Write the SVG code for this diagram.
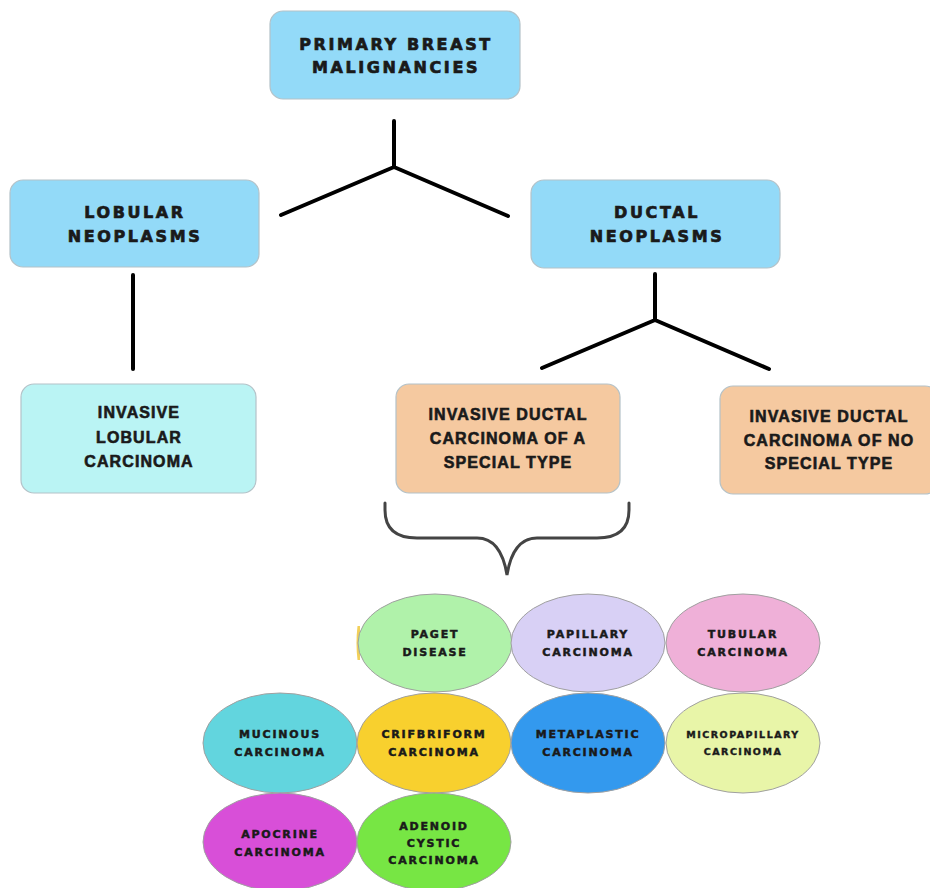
<svg xmlns="http://www.w3.org/2000/svg" width="930" height="888" viewBox="0 0 930 888">
<style>
.box{stroke:#b4c2c8;stroke-width:1.2}
.blue{fill:#93DAF8}
.cyan{fill:#BAF4F4}
.orange{fill:#F5C9A0}
.t1{font-family:"DejaVu Sans",sans-serif;font-weight:bold;font-size:16px;letter-spacing:2.6px;fill:#1a1a1a;stroke:#1a1a1a;stroke-width:0.7px;text-anchor:middle}
.t2{font-family:"Liberation Sans",Arial,sans-serif;font-weight:bold;font-size:16px;letter-spacing:1.1px;fill:#1a1a1a;stroke:#1a1a1a;stroke-width:0.6px;text-anchor:middle}
.t3{font-family:"DejaVu Sans",sans-serif;font-weight:bold;font-size:11px;letter-spacing:1.8px;fill:#1a1a1a;stroke:#1a1a1a;stroke-width:0.5px;text-anchor:middle}
.t4{font-family:"DejaVu Sans",sans-serif;font-weight:bold;font-size:9.5px;letter-spacing:1.5px;fill:#1a1a1a;stroke:#1a1a1a;stroke-width:0.4px;text-anchor:middle}
.el{stroke:#a0a0a0;stroke-width:1}
.conn{stroke:#000;stroke-width:4;fill:none;stroke-linecap:round;stroke-linejoin:round}
.brace{stroke:#444;stroke-width:3;fill:none;stroke-linecap:round}
</style>
<rect width="930" height="888" fill="#fff"/>
<g id="connectors">
<path class="conn" d="M394 121 V167 M281 215 L394 167 L508 216"/>
<path class="conn" d="M133 275 V369"/>
<path class="conn" d="M655 274 V320 M542 368 L655 320 L769 369"/>
<path class="brace" d="M385 503 V510 Q385 538 417 538 H477 Q501 538 507 575 Q513 538 537 538 H597 Q629 538 629 510 V503"/>
</g>
<g id="primary">
<rect class="box blue" x="270" y="11" width="250" height="88" rx="13"/>
<text class="t1" x="396" y="50">PRIMARY BREAST</text>
<text class="t1" x="396" y="73">MALIGNANCIES</text>
</g>
<g id="lobular">
<rect class="box blue" x="10" y="180" width="249" height="87" rx="13"/>
<text class="t1" x="135" y="218">LOBULAR</text>
<text class="t1" x="135" y="242">NEOPLASMS</text>
</g>
<g id="ductal">
<rect class="box blue" x="531" y="180" width="249" height="88" rx="13"/>
<text class="t1" x="657" y="218">DUCTAL</text>
<text class="t1" x="657" y="242">NEOPLASMS</text>
</g>
<g id="ilc">
<rect class="box cyan" x="21" y="384" width="235" height="109" rx="13"/>
<text class="t2" x="139" y="418">INVASIVE</text>
<text class="t2" x="139" y="443">LOBULAR</text>
<text class="t2" x="139" y="467">CARCINOMA</text>
</g>
<g id="idc-special">
<rect class="box orange" x="396" y="384" width="224" height="109" rx="13"/>
<text class="t2" x="508" y="420">INVASIVE DUCTAL</text>
<text class="t2" x="508" y="444">CARCINOMA OF A</text>
<text class="t2" x="508" y="468">SPECIAL TYPE</text>
</g>
<g id="idc-nst">
<rect class="box orange" x="720" y="386" width="218" height="108" rx="13"/>
<text class="t2" x="829" y="422">INVASIVE DUCTAL</text>
<text class="t2" x="829" y="446">CARCINOMA OF NO</text>
<text class="t2" x="829" y="469">SPECIAL TYPE</text>
</g>
<path d="M357.5 626 Q355.5 643 357.5 660 L360 660 L360 626 Z" fill="#F2D05A"/>
<g id="paget">
<ellipse class="el" cx="435" cy="643" rx="77" ry="49" fill="#B0F2AA"/>
<text class="t3" x="435" y="638">PAGET</text>
<text class="t3" x="435" y="656">DISEASE</text>
</g>
<g id="papillary">
<ellipse class="el" cx="588" cy="643" rx="77" ry="49" fill="#D8D0F5"/>
<text class="t3" x="588" y="638">PAPILLARY</text>
<text class="t3" x="588" y="656">CARCINOMA</text>
</g>
<g id="tubular">
<ellipse class="el" cx="743" cy="643" rx="77" ry="49" fill="#EFB0D8"/>
<text class="t3" x="743" y="638">TUBULAR</text>
<text class="t3" x="743" y="656">CARCINOMA</text>
</g>
<g id="mucinous">
<ellipse class="el" cx="280" cy="743" rx="77" ry="50" fill="#62D5DE"/>
<text class="t3" x="280" y="738">MUCINOUS</text>
<text class="t3" x="280" y="756">CARCINOMA</text>
</g>
<g id="cribriform">
<ellipse class="el" cx="434" cy="743" rx="77" ry="50" fill="#F8D02E"/>
<text class="t3" x="434" y="738">CRIFBRIFORM</text>
<text class="t3" x="434" y="756">CARCINOMA</text>
</g>
<g id="metaplastic">
<ellipse class="el" cx="588" cy="743" rx="77" ry="50" fill="#3399EE"/>
<text class="t3" x="588" y="738">METAPLASTIC</text>
<text class="t3" x="588" y="756">CARCINOMA</text>
</g>
<g id="micropapillary">
<ellipse class="el" cx="743" cy="743" rx="77" ry="50" fill="#E8F5A8"/>
<text class="t4" x="743" y="738">MICROPAPILLARY</text>
<text class="t4" x="743" y="755">CARCINOMA</text>
</g>
<g id="apocrine">
<ellipse class="el" cx="280" cy="842" rx="77" ry="49" fill="#D84FD8"/>
<text class="t3" x="280" y="838">APOCRINE</text>
<text class="t3" x="280" y="856">CARCINOMA</text>
</g>
<g id="adenoid">
<ellipse class="el" cx="434" cy="842" rx="77" ry="49" fill="#77E644"/>
<text class="t3" x="434" y="830">ADENOID</text>
<text class="t3" x="434" y="847">CYSTIC</text>
<text class="t3" x="434" y="864">CARCINOMA</text>
</g>
</svg>
